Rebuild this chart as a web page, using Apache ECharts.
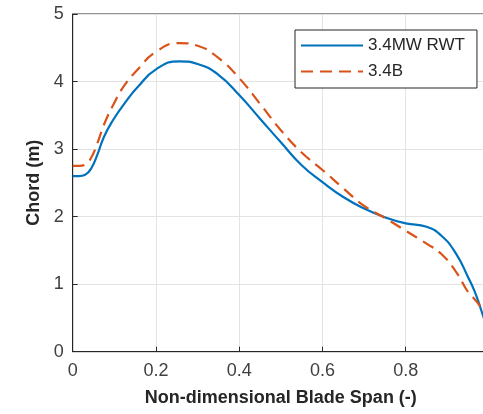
<!DOCTYPE html>
<html><head><meta charset="utf-8">
<script src="https://cdn.jsdelivr.net/npm/echarts@6/dist/echarts.min.js"></script>
<style>html,body{margin:0;padding:0;background:#fff;overflow:hidden}#c{width:492px;height:414px}</style>
</head><body><div id="c"></div>
<script>
const span = [0, 0.015, 0.03, 0.045, 0.06, 0.075, 0.097, 0.125, 0.155, 0.2, 0.256, 0.3, 0.35, 0.4, 0.45, 0.5, 0.55, 0.6, 0.65, 0.7, 0.75, 0.8, 0.85, 0.885, 0.92, 0.95, 0.965, 0.98, 1.0];
const chordRWT = [2.60, 2.60, 2.62, 2.72, 2.93, 3.18, 3.43, 3.68, 3.91, 4.18, 4.30, 4.26, 4.10, 3.80, 3.45, 3.10, 2.76, 2.51, 2.29, 2.12, 1.99, 1.90, 1.85, 1.72, 1.46, 1.10, 0.90, 0.64, 0.25];
const chord34B = [2.75, 2.75, 2.77, 2.88, 3.10, 3.36, 3.65, 3.95, 4.17, 4.44, 4.57, 4.53, 4.35, 4.05, 3.67, 3.28, 2.95, 2.69, 2.42, 2.16, 1.98, 1.79, 1.60, 1.45, 1.19, 0.88, 0.78, 0.66, 0.45];
const seriesNames = ['3.4MW RWT', '3.4B'];
const xTicks = [0, 0.2, 0.4, 0.6, 0.8, 1];
const yTicks = [0, 1, 2, 3, 4, 5];

const pairs = arr => span.map((x, i) => [x, arr[i]]);
const chart = echarts.init(document.getElementById('c'));
const axisCol = '#262626';
const font = 'Arial, "Liberation Sans", sans-serif';
chart.setOption({
  animation: false,
  grid: { left: 72.7, top: 14, right: 0.8, bottom: 62.3, show: true, borderColor: axisCol, borderWidth: 1, backgroundColor: 'transparent' },
  legend: {
    orient: 'vertical', left: 295, top: 30,
    data: seriesNames,
    backgroundColor: '#fff', borderColor: axisCol, borderWidth: 1, borderRadius: 0,
    padding: [7, 12, 8, 5], itemGap: 9, itemWidth: 62, itemHeight: 14,
    itemStyle: { opacity: 0 },
    textStyle: { fontFamily: font, fontSize: 17, color: axisCol }
  },
  xAxis: {
    type: 'value', min: xTicks[0], max: xTicks[xTicks.length - 1], interval: 0.2,
    name: 'Non-dimensional Blade Span (-)', nameLocation: 'middle', nameGap: 37,
    nameTextStyle: { fontFamily: font, fontSize: 18, fontWeight: 'bold', color: axisCol },
    axisLine: { show: true, lineStyle: { color: axisCol, width: 1 } },
    axisTick: { show: true, inside: true, length: 5, lineStyle: { color: axisCol } },
    axisLabel: { fontFamily: font, fontSize: 18, color: '#404040', margin: 10, formatter: v => (Math.abs(v - 1) < 1e-9 ? '' : String(+v.toFixed(1))) },
    splitLine: { show: true, lineStyle: { color: '#e3e3e3', width: 1 } }
  },
  yAxis: {
    type: 'value', min: yTicks[0], max: yTicks[yTicks.length - 1], interval: 1,
    name: 'Chord (m)', nameLocation: 'middle', nameGap: 30,
    nameTextStyle: { fontFamily: font, fontSize: 18, fontWeight: 'bold', color: axisCol },
    axisLine: { show: true, lineStyle: { color: axisCol, width: 1 } },
    axisTick: { show: true, inside: true, length: 5, lineStyle: { color: axisCol } },
    axisLabel: { fontFamily: font, fontSize: 18, color: '#404040', margin: 9 },
    splitLine: { show: true, lineStyle: { color: '#e3e3e3', width: 1 } }
  },
  series: [
    { name: seriesNames[0], type: 'line', data: pairs(chordRWT), smooth: 0.5, symbol: 'none', color: '#0072BD', lineStyle: { width: 2.2, color: '#0072BD' } },
    { name: seriesNames[1], type: 'line', data: pairs(chord34B), smooth: 0.5, symbol: 'none', color: '#D95319', lineStyle: { width: 2.2, color: '#D95319', type: [12, 7] } }
  ]
});
</script></body></html>
